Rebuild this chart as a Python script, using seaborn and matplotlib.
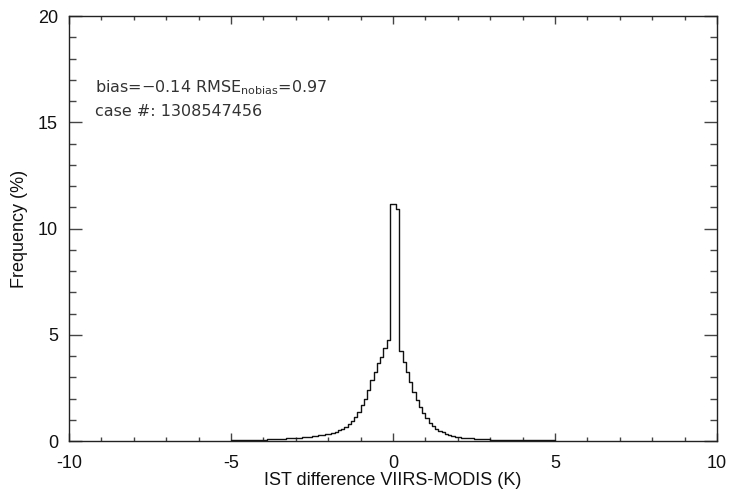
import numpy as np
import pandas as pd
import seaborn as sns
import matplotlib.pyplot as plt

# histogram of IST difference, 0.1 K bins from -5 to 5, frequency in %
bin_start = np.round(np.arange(-5.0, 5.0, 0.1), 1)
freq = [
    # -5.0 .. -4.1
    0.04, 0.04, 0.04, 0.05, 0.05, 0.05, 0.06, 0.06, 0.06, 0.07,
    # -4.0 .. -3.1
    0.07, 0.08, 0.08, 0.09, 0.10, 0.10, 0.11, 0.12, 0.13, 0.14,
    # -3.0 .. -2.1
    0.15, 0.16, 0.17, 0.19, 0.20, 0.22, 0.24, 0.26, 0.28, 0.31,
    # -2.0 .. -1.1
    0.35, 0.39, 0.44, 0.50, 0.58, 0.67, 0.80, 0.96, 1.14, 1.38,
    # -1.0 .. -0.1
    1.69, 2.00, 2.40, 2.87, 3.26, 3.65, 3.97, 4.36, 4.75, 11.15,
    # 0.0 .. 0.9
    11.15, 10.90, 4.25, 3.73, 3.26, 2.79, 2.32, 1.93, 1.58, 1.30,
    # 1.0 .. 1.9
    1.07, 0.86, 0.70, 0.58, 0.48, 0.41, 0.34, 0.28, 0.23, 0.19,
    # 2.0 .. 2.9
    0.17, 0.15, 0.14, 0.13, 0.12, 0.11, 0.10, 0.09, 0.09, 0.08,
    # 3.0 .. 3.9
    0.07, 0.07, 0.06, 0.06, 0.06, 0.05, 0.05, 0.05, 0.05, 0.04,
    # 4.0 .. 4.9
    0.04, 0.04, 0.04, 0.04, 0.04, 0.04, 0.04, 0.04, 0.04, 0.04,
]
bias = -0.14
rmse_nobias = 0.97
n_cases = 1308547456

df = pd.DataFrame({'diff': bin_start + 0.05, 'freq': freq})

sns.set_style('ticks')
plt.rcParams['font.family'] = ['Liberation Sans', 'DejaVu Sans']
plt.rcParams['axes.unicode_minus'] = False

fig = plt.figure(figsize=(7.29, 4.90), dpi=100)
ax = fig.add_axes([69 / 729, 1 - 441 / 490, 648 / 729, 425 / 490])

sns.histplot(data=df, x='diff', weights='freq', binwidth=0.1, binrange=(-5, 5),
             element='step', fill=False, color='#111111', linewidth=1.0, ax=ax)

ax.set_xlim(-10, 10)
ax.set_ylim(0, 20)
ax.set_xticks([-10, -5, 0, 5, 10])
ax.set_yticks([0, 5, 10, 15, 20])
ax.set_xticks(np.arange(-10, 11, 1), minor=True)
ax.set_yticks(np.arange(0, 21, 1), minor=True)

for s in ax.spines.values():
    s.set_visible(True)
    s.set_color('#222222')
    s.set_linewidth(1.0)

ax.tick_params(axis='both', which='both', direction='in', color='#444444',
               top=True, right=True, width=1.0, labelsize=13, labelcolor='#111111')
ax.tick_params(axis='x', which='major', length=6.1, pad=10)
ax.tick_params(axis='x', which='minor', length=3.1)
ax.tick_params(axis='y', which='major', length=9.4, pad=8)
ax.tick_params(axis='y', which='minor', length=4.7)

ax.set_xlabel('IST difference VIIRS-MODIS (K)', fontsize=13, color='#111111', labelpad=0)
ax.set_ylabel('Frequency (%)', fontsize=13, color='#111111', labelpad=7)

ax.text(-9.2, 16.62, r'bias=$-$%.2f RMSE$_{\rm nobias}$=%.2f' % (abs(bias), rmse_nobias),
        fontsize=11.5, color='#333333', va='center', family=['DejaVu Sans'])
ax.text(-9.2, 15.5, 'case #: %d' % n_cases,
        fontsize=11.5, color='#333333', va='center', family=['DejaVu Sans'])

fig.savefig('out.png', dpi=100, facecolor='white')
